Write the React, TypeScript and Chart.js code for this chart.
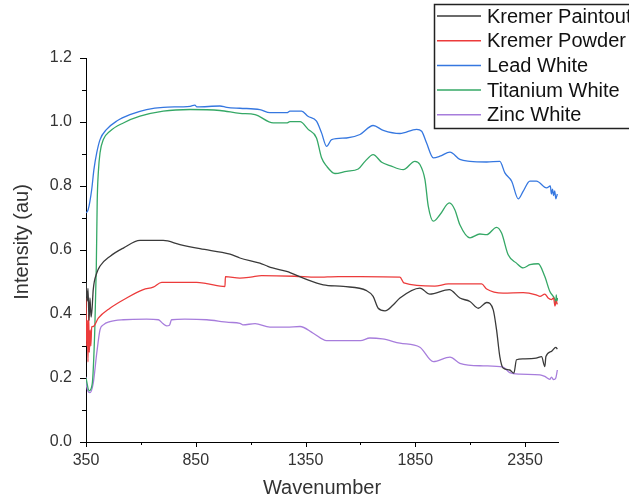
import React, { useEffect, useRef } from 'react';
import { Chart, registerables } from 'chart.js';

Chart.register(...registerables);

// ---- Data (wavenumber, intensity) ----
const paintoutX = [350, 355, 359, 364, 368, 373, 378, 383, 399, 414, 459, 520, 596, 702, 778, 869, 1006, 1051, 1142, 1175, 1200, 1264, 1340, 1431, 1522, 1628, 1658, 1681, 1712, 1750, 1780, 1871, 1916, 2005, 2053, 2099, 2137, 2175, 2205, 2220, 2235, 2250, 2280, 2299, 2311, 2341, 2400, 2425, 2440, 2445, 2470, 2490, 2497];
const paintoutY = [0.50, 0.44, 0.48, 0.38, 0.45, 0.39, 0.42, 0.476, 0.528, 0.550, 0.580, 0.606, 0.630, 0.630, 0.617, 0.604, 0.587, 0.575, 0.559, 0.550, 0.544, 0.533, 0.512, 0.491, 0.486, 0.473, 0.455, 0.418, 0.410, 0.429, 0.450, 0.481, 0.462, 0.476, 0.450, 0.439, 0.418, 0.436, 0.413, 0.351, 0.267, 0.231, 0.225, 0.215, 0.257, 0.260, 0.262, 0.267, 0.236, 0.267, 0.283, 0.296, 0.29];

const powderX = [350, 353, 356, 359, 362, 365, 369, 372, 376, 383, 406, 459, 535, 611, 656, 695, 854, 900, 983, 985, 1051, 1100, 1150, 1300, 1400, 1500, 1600, 1780, 1798, 1939, 2000, 2152, 2175, 2250, 2341, 2400, 2418, 2440, 2455, 2470, 2480, 2486, 2492, 2497];
const powderY = [0.45, 0.30, 0.38, 0.25, 0.40, 0.28, 0.35, 0.30, 0.36, 0.361, 0.387, 0.418, 0.450, 0.476, 0.484, 0.499, 0.499, 0.495, 0.486, 0.517, 0.512, 0.515, 0.520, 0.518, 0.515, 0.517, 0.517, 0.515, 0.497, 0.487, 0.494, 0.494, 0.478, 0.465, 0.467, 0.460, 0.455, 0.462, 0.450, 0.445, 0.450, 0.425, 0.44, 0.43];

const leadX = [350, 360, 376, 386, 399, 414, 444, 490, 550, 626, 702, 824, 846, 855, 960, 991, 1051, 1142, 1188, 1265, 1279, 1332, 1361, 1400, 1423, 1446, 1469, 1537, 1598, 1658, 1704, 1780, 1856, 1879, 1901, 1932, 1962, 2008, 2053, 2099, 2175, 2235, 2258, 2289, 2319, 2341, 2372, 2402, 2448, 2465, 2470, 2475, 2480, 2485, 2490, 2497];
const leadY = [0.716, 0.726, 0.789, 0.851, 0.904, 0.945, 0.977, 1.003, 1.023, 1.039, 1.046, 1.049, 1.053, 1.047, 1.050, 1.046, 1.043, 1.039, 1.029, 1.029, 1.034, 1.034, 1.018, 1.003, 0.966, 0.924, 0.945, 0.950, 0.961, 0.989, 0.974, 0.964, 0.977, 0.971, 0.935, 0.888, 0.893, 0.906, 0.883, 0.877, 0.875, 0.877, 0.841, 0.815, 0.760, 0.783, 0.815, 0.815, 0.794, 0.80, 0.775, 0.79, 0.77, 0.785, 0.76, 0.775];

const titaniumX = [350, 364, 378, 390, 397, 401, 406, 414, 429, 459, 520, 596, 702, 824, 960, 1051, 1120, 1203, 1264, 1279, 1325, 1362, 1400, 1423, 1446, 1484, 1537, 1590, 1621, 1658, 1697, 1734, 1795, 1848, 1871, 1894, 1909, 1932, 1962, 2005, 2030, 2053, 2099, 2144, 2175, 2220, 2243, 2273, 2311, 2341, 2372, 2410, 2440, 2463, 2486, 2490, 2492, 2495, 2498];
const titaniumY = [0.20, 0.16, 0.18, 0.35, 0.55, 0.75, 0.841, 0.904, 0.945, 0.971, 0.997, 1.018, 1.034, 1.039, 1.036, 1.027, 1.023, 0.997, 0.997, 1.001, 1.001, 0.977, 0.950, 0.888, 0.862, 0.839, 0.846, 0.853, 0.877, 0.898, 0.874, 0.864, 0.851, 0.877, 0.867, 0.820, 0.737, 0.690, 0.710, 0.747, 0.726, 0.679, 0.638, 0.650, 0.648, 0.671, 0.653, 0.585, 0.559, 0.544, 0.554, 0.557, 0.517, 0.470, 0.444, 0.43, 0.46, 0.44, 0.45];

const zincX = [350, 353, 368, 383, 399, 414, 429, 459, 520, 626, 680, 700, 717, 730, 740, 800, 900, 1000, 1051, 1065, 1120, 1188, 1264, 1325, 1385, 1446, 1600, 1643, 1700, 1780, 1871, 1932, 2008, 2053, 2159, 2250, 2280, 2326, 2418, 2440, 2463, 2470, 2480, 2490, 2497];
const zincY = [0.204, 0.173, 0.154, 0.184, 0.278, 0.351, 0.366, 0.376, 0.382, 0.384, 0.382, 0.370, 0.363, 0.365, 0.382, 0.384, 0.382, 0.374, 0.371, 0.366, 0.37, 0.359, 0.359, 0.361, 0.340, 0.317, 0.317, 0.325, 0.322, 0.309, 0.296, 0.251, 0.265, 0.246, 0.238, 0.234, 0.217, 0.212, 0.210, 0.205, 0.196, 0.203, 0.195, 0.20, 0.225];

const seriesLabels = ['Kremer Paintout', 'Kremer Powder', 'Lead White', 'Titanium White', 'Zinc White'];
const seriesColors = ['#3a3a3a', '#ec3b3b', '#3577e0', '#35a866', '#a77ddc'];
const seriesX = [paintoutX, powderX, leadX, titaniumX, zincX];
const seriesY = [paintoutY, powderY, leadY, titaniumY, zincY];

const xTickValues = [350, 600, 850, 1100, 1350, 1600, 1850, 2100, 2350];
const yTickValues = [0, 0.1, 0.2, 0.3, 0.4, 0.5, 0.6, 0.7, 0.8, 0.9, 1.0, 1.1, 1.2];
const yTitle = 'Intensity (au)';

const FONT = '"Liberation Sans", Arial, sans-serif';

const tickMarksPlugin = {
  id: 'tickMarks',
  afterDraw(chart: any) {
    const ctx = chart.ctx;
    const xs = chart.scales.x;
    const ys = chart.scales.y;
    const { left, bottom } = chart.chartArea;
    ctx.save();
    ctx.strokeStyle = '#000';
    ctx.lineWidth = 1;
    xTickValues.forEach((v) => {
      const px = Math.round(xs.getPixelForValue(v)) + 0.5;
      const major = (v - 350) % 500 === 0;
      ctx.beginPath();
      ctx.moveTo(px, bottom);
      ctx.lineTo(px, bottom + (major ? 5 : 3));
      ctx.stroke();
    });
    yTickValues.forEach((v) => {
      const py = Math.round(ys.getPixelForValue(v)) + 0.5;
      const major = Math.round(v * 10) % 2 === 0;
      ctx.beginPath();
      ctx.moveTo(left, py);
      ctx.lineTo(left - (major ? 6 : 4), py);
      ctx.stroke();
    });
    // y-axis title
    ctx.translate(22, 242);
    ctx.rotate(-Math.PI / 2);
    ctx.font = '20px ' + FONT;
    ctx.fillStyle = '#333';
    ctx.textAlign = 'center';
    ctx.textBaseline = 'middle';
    ctx.fillText(yTitle, 0, 0);
    ctx.restore();
  },
};

const legendPlugin = {
  id: 'boxLegend',
  afterDraw(chart: any) {
    const ctx = chart.ctx;
    ctx.save();
    const bx = 434.5, by = 4.5, bw = 220, bh = 124;
    ctx.fillStyle = '#fff';
    ctx.fillRect(bx, by, bw, bh);
    ctx.strokeStyle = '#222';
    ctx.lineWidth = 1.5;
    ctx.strokeRect(bx, by, bw, bh);
    ctx.font = '20px ' + FONT;
    ctx.textBaseline = 'middle';
    ctx.textAlign = 'left';
    chart.data.datasets.forEach((ds: any, i: number) => {
      const y = 16 + i * 24.7;
      ctx.strokeStyle = ds.borderColor;
      ctx.lineWidth = 1.5;
      ctx.beginPath();
      ctx.moveTo(437, y);
      ctx.lineTo(481, y);
      ctx.stroke();
      ctx.fillStyle = '#111';
      ctx.fillText(ds.label, 487, y + 1);
    });
    ctx.restore();
  },
};

export default function App() {
  const canvasRef = useRef<HTMLCanvasElement | null>(null);

  useEffect(() => {
    if (!canvasRef.current) return;
    const datasets = seriesLabels.map((label, i) => ({
      label,
      data: seriesX[i].map((x, j) => ({ x, y: seriesY[i][j] })),
      borderColor: seriesColors[i],
      backgroundColor: seriesColors[i],
      borderWidth: 1.3,
      pointRadius: 0,
      cubicInterpolationMode: 'monotone' as const,
      fill: false,
    }));
    const chart = new Chart(canvasRef.current, {
      type: 'line',
      data: { datasets },
      options: {
        animation: false,
        responsive: false,
        maintainAspectRatio: false,
        layout: { padding: { top: 58, right: 71, left: 0, bottom: 0 } },
        plugins: { legend: { display: false }, tooltip: { enabled: false } },
        scales: {
          x: {
            type: 'linear',
            min: 350,
            max: 2500,
            afterFit: (s: any) => { s.height = 59; },
            afterBuildTicks: (s: any) => { s.ticks = xTickValues.map((v) => ({ value: v })); },
            grid: { display: true, drawOnChartArea: false, drawTicks: false },
            border: { display: true, color: '#000', width: 1 },
            ticks: {
              padding: 9,
              color: '#333',
              font: { family: FONT, size: 16 },
              maxRotation: 0,
              autoSkip: false,
              callback: (v: any) => ((Number(v) - 350) % 500 === 0 ? String(v) : ''),
            },
            title: {
              display: true,
              text: 'Wavenumber',
              color: '#333',
              font: { family: FONT, size: 20 },
              padding: { top: 0, bottom: 1 },
            },
          },
          y: {
            type: 'linear',
            min: 0,
            max: 1.2,
            afterFit: (s: any) => { s.width = 86; },
            afterBuildTicks: (s: any) => { s.ticks = yTickValues.map((v) => ({ value: v })); },
            grid: { display: true, drawOnChartArea: false, drawTicks: false },
            border: { display: true, color: '#000', width: 1 },
            ticks: {
              padding: 14,
              color: '#333',
              font: { family: FONT, size: 16 },
              autoSkip: false,
              callback: (v: any) => (Math.round(Number(v) * 10) % 2 === 0 ? Number(v).toFixed(1) : ''),
            },
          },
        },
      },
      plugins: [tickMarksPlugin, legendPlugin],
    });
    return () => chart.destroy();
  }, []);

  return (
    <div style={{ position: 'absolute', left: 0, top: 0, width: 629, height: 501, background: '#fff' }}>
      <canvas ref={canvasRef} width={629} height={501} style={{ display: 'block' }} />
    </div>
  );
}
